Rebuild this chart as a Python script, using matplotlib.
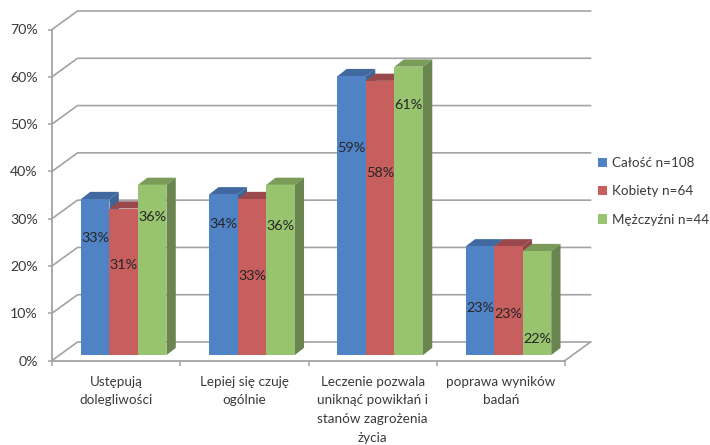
import matplotlib
matplotlib.use("Agg")
import matplotlib.pyplot as plt
from matplotlib.patches import Patch, Polygon

plt.rcParams["font.family"] = ["Lato", "DejaVu Sans"]

categories = [
    "Ustępują\ndolegliwości",
    "Lepiej się czuję\nogólnie",
    "Leczenie pozwala\nuniknąć powikłań i\nstanów zagrożenia\nżycia",
    "poprawa wyników\nbadań",
]
series_names = ["Całość n=108", "Kobiety n=64", "Mężczyźni n=44"]
calosc = [33, 34, 59, 23]
kobiety = [31, 33, 58, 23]
mezczyzni = [36, 36, 61, 22]
# Heights at which the value labels sit, in percent units
calosc_label_y = [25.9, 28.8, 45.0, 11.1]
kobiety_label_y = [20.2, 17.8, 39.6, 9.9]
mezczyzni_label_y = [30.4, 28.4, 54.0, 4.6]
y_ticks = [0, 10, 20, 30, 40, 50, 60, 70]

front_colors = ["#5083C6", "#C85F5F", "#98C36F"]
top_colors = ["#41699F", "#99494B", "#7A9C58"]
side_colors = ["#3E6596", "#8E4647", "#6A8550"]
grid_color = "#A3A3A6"
text_color = "#3A3A3A"

W, H = 710, 445
fig = plt.figure(figsize=(W / 100, H / 100), dpi=100, facecolor="white")
ax = fig.add_axes([52 / W, 1 - 360.5 / H, 513 / W, 331 / H])
ax.set_xlim(0, 4)
ax.set_ylim(0, 70)
ax.set_facecolor("none")

# Oblique projection offsets, in data units
wall_dx, wall_dy = 25.5 / 128.25, 18.5 / 4.73
bar_dx, bar_dy = 9.3 / 128.25, 7.2 / 4.73
floor_y = 5.4 / 4.73
bar_w = 0.2222
first_bar = 0.226

# Back wall gridlines with their slanted returns on the left wall
for t in y_ticks:
    ax.plot([0, wall_dx, 4 + wall_dx], [t, t + wall_dy, t + wall_dy],
            color=grid_color, lw=1.2, clip_on=False, zorder=1)
# Right edge of the floor
ax.plot([4, 4 + wall_dx], [0, wall_dy], color=grid_color, lw=1.2, clip_on=False, zorder=1)

series = [calosc, kobiety, mezczyzni]
label_rows = [calosc_label_y, kobiety_label_y, mezczyzni_label_y]
z = 3
for c in range(len(categories)):
    for s, values in enumerate(series):
        v = values[c]
        x0 = c + first_bar + s * bar_w
        x1 = x0 + bar_w
        top = floor_y + v
        ax.add_patch(Polygon([(x0, top), (x1, top), (x1 + bar_dx, top + bar_dy), (x0 + bar_dx, top + bar_dy)],
                             facecolor=top_colors[s], edgecolor="none", zorder=z, clip_on=False))
        ax.add_patch(Polygon([(x1, floor_y), (x1 + bar_dx, floor_y + bar_dy), (x1 + bar_dx, top + bar_dy), (x1, top)],
                             facecolor=side_colors[s], edgecolor="none", zorder=z, clip_on=False))
        ax.bar(x0, v, width=bar_w, bottom=floor_y, align="edge", color=front_colors[s],
               linewidth=0, zorder=z + 0.5)
        z += 1

for c in range(len(categories)):
    for s, values in enumerate(series):
        ax.text(c + first_bar + (s + 0.5) * bar_w, label_rows[s][c], f"{values[c]}%",
                ha="center", va="center", fontsize=10.4, color="#252525", zorder=100)

for side in ("top", "right"):
    ax.spines[side].set_visible(False)
for side in ("left", "bottom"):
    ax.spines[side].set_color(grid_color)
    ax.spines[side].set_linewidth(1.3)

ax.set_yticks(y_ticks)
ax.set_yticklabels([f"{t}%" for t in y_ticks], fontsize=10.2, color=text_color)
ax.tick_params(axis="y", length=3.2, width=1.1, color=grid_color, pad=7)
ax.set_xticks(range(5))
ax.set_xticklabels([])
ax.tick_params(axis="x", which="major", length=3.6, width=1.1, color=grid_color)
ax.set_xticks([c + 0.5 for c in range(4)], minor=True)
ax.set_xticklabels(categories, minor=True, fontsize=9.7, color=text_color, linespacing=1.67)
ax.tick_params(axis="x", which="minor", length=0, pad=11)

handles = [Patch(facecolor=col, edgecolor="none") for col in front_colors]
fig.legend(handles, series_names, loc="center left", bbox_to_anchor=(598 / W, 1 - 191.5 / H),
           frameon=False, fontsize=9.7, labelcolor=text_color, handlelength=0.68, handleheight=0.68,
           handletextpad=0.38, labelspacing=1.2, borderpad=0, borderaxespad=0)

fig.savefig("out.png", dpi=100)
